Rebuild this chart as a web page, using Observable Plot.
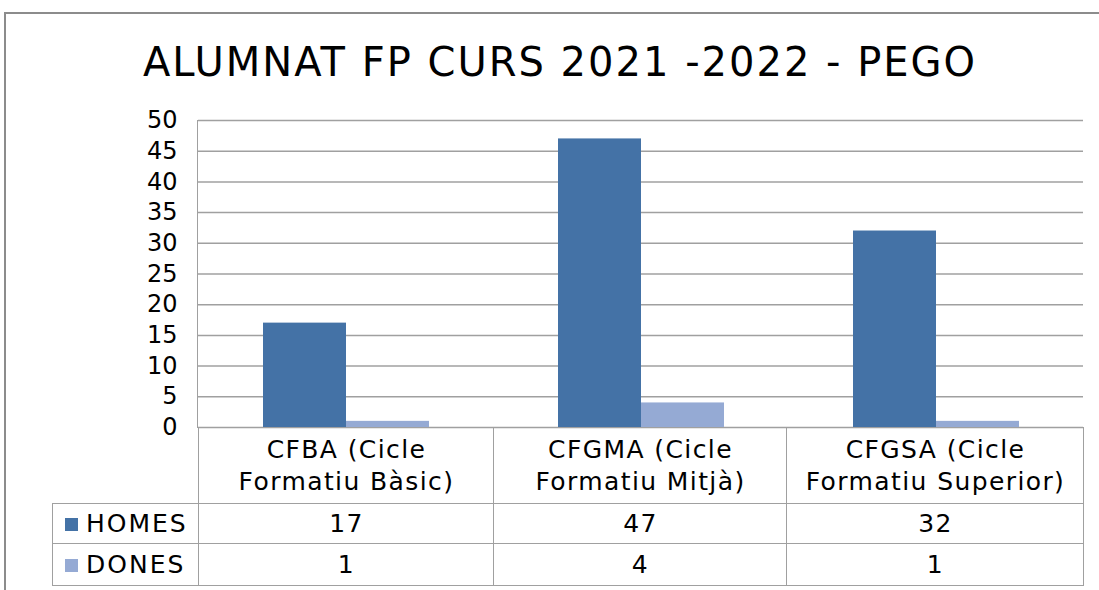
<!DOCTYPE html>
<html><head><meta charset="utf-8">
<script src="https://cdn.jsdelivr.net/npm/d3@7"></script>
<script src="https://cdn.jsdelivr.net/npm/@observablehq/plot@0.6"></script>
<style>
body{margin:0;background:#fff;font-family:"DejaVu Sans",sans-serif;color:#000;}
#wrap{position:relative;width:1099px;height:590px;overflow:hidden;}
#frame{position:absolute;left:4px;top:12px;width:1200px;height:700px;border:2px solid #8c8c8c;}
#title{position:absolute;left:0px;width:1120px;top:36px;text-align:center;font-size:40px;line-height:52px;white-space:nowrap;letter-spacing:2px;}
#chart{position:absolute;left:0;top:100px;}
#axisline{position:absolute;left:197px;top:120px;width:0;height:308px;border-left:1.5px solid #a0a0a0;}
#tbl{position:absolute;left:52px;top:427px;border-collapse:collapse;font-size:25px;letter-spacing:1.4px;table-layout:fixed;}
#tbl td{border:1.5px solid #a0a0a0;text-align:center;padding:0;line-height:32px;}
#tbl td.val{padding-left:1px;}
#tbl td.empty{border-top:none;border-left:none;}
#tbl td.lab{text-align:left;padding-left:12px;white-space:nowrap;letter-spacing:2px;}
.sw{display:inline-block;width:13px;height:13px;margin-right:8px;vertical-align:1px;}
</style>
</head><body>
<div id="wrap">
<div id="frame"></div>
<div id="title"></div>
<div id="chart"></div>
<div id="axisline"></div>
<table id="tbl"></table>
</div>
<script>
const title = "ALUMNAT FP CURS 2021 -2022 - PEGO";
const categories = ["CFBA (Cicle Formatiu Bàsic)", "CFGMA (Cicle Formatiu Mitjà)", "CFGSA (Cicle Formatiu Superior)"];
const categoryLines = [["CFBA (Cicle", "Formatiu Bàsic)"], ["CFGMA (Cicle", "Formatiu Mitjà)"], ["CFGSA (Cicle", "Formatiu Superior)"]];
const series = ["HOMES", "DONES"];
const homes = [17, 47, 32];
const dones = [1, 4, 1];
const seriesColors = ["#4472A6", "#95AAD4"];
const yTicks = [0, 5, 10, 15, 20, 25, 30, 35, 40, 45, 50];

const values = {HOMES: homes, DONES: dones};
const data = categories.flatMap((c, i) => series.map(s => ({cat: c, s, v: values[s][i]})));

document.getElementById("title").textContent = title;

const chart = Plot.plot({
  width: 1099, height: 340,
  marginTop: 20, marginBottom: 13, marginLeft: 198, marginRight: 16,
  style: {fontFamily: "'DejaVu Sans', sans-serif", color: "#000", background: "transparent", overflow: "visible"},
  fx: {domain: categories, padding: 0, axis: null},
  x: {domain: series, paddingInner: 0, paddingOuter: 0.756, axis: null},
  y: {domain: [0, 50], axis: null},
  color: {domain: series, range: seriesColors},
  marks: [
    Plot.ruleY(yTicks, {stroke: "#a0a0a0", strokeWidth: 1.5}),
    Plot.barY(data, {fx: "cat", x: "s", y: "v", fill: "s", inset: 0}),
    Plot.axisY(yTicks, {anchor: "left", label: null, tickSize: 0, tickPadding: 21, fontSize: 24, fill: "#000", style: "letter-spacing:2.5px"})
  ]
});
document.getElementById("chart").appendChild(chart);

// data table
const tbl = document.getElementById("tbl");
const colgroup = document.createElement("colgroup");
[146, 295, 293, 297].forEach(w => { const c = document.createElement("col"); c.style.width = w + "px"; colgroup.appendChild(c); });
tbl.appendChild(colgroup);
const hr = document.createElement("tr");
hr.style.height = "76px";
const e = document.createElement("td"); e.className = "empty"; hr.appendChild(e);
categoryLines.forEach(lines => {
  const td = document.createElement("td");
  td.className = "val";
  td.innerHTML = lines.map(l => `<div>${l}</div>`).join("");
  hr.appendChild(td);
});
tbl.appendChild(hr);
series.forEach((s, si) => {
  const tr = document.createElement("tr");
  tr.style.height = si === 0 ? "40px" : "42px";
  const lab = document.createElement("td");
  lab.className = "lab";
  lab.innerHTML = `<span class="sw" style="background:${seriesColors[si]}"></span>${s}`;
  tr.appendChild(lab);
  values[s].forEach(v => { const td = document.createElement("td"); td.className = "val"; td.textContent = v; tr.appendChild(td); });
  tbl.appendChild(tr);
});
</script>
</body></html>
